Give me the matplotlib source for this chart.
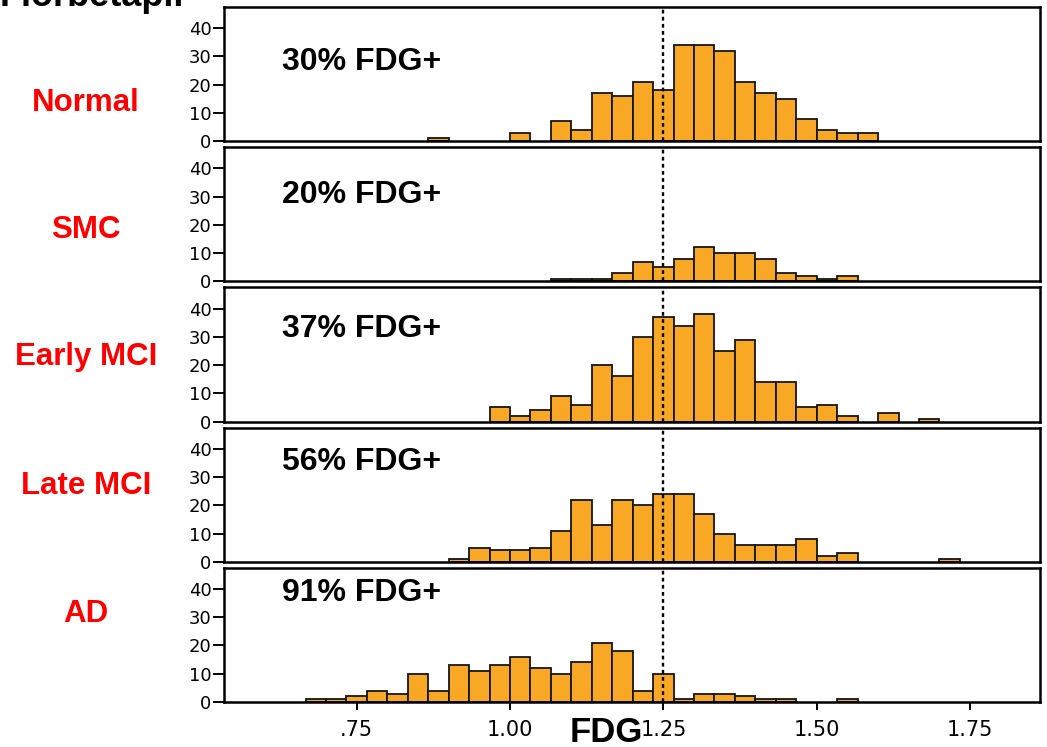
import matplotlib.pyplot as plt
import numpy as np

groups = ["Normal", "SMC", "Early MCI", "Late MCI", "AD"]
pct_labels = ["30% FDG+", "20% FDG+", "37% FDG+", "56% FDG+", "91% FDG+"]

# histogram bins are 1/30 wide, centred on 1.25; first bin centre 1.25 - 17/30
bin_width = 1 / 30
first_center = 1.25 - 17 / 30

normal = [0, 0, 0, 0, 0, 0, 1, 0, 0, 0, 3, 0, 7, 4, 17, 16, 21, 18,
          34, 34, 32, 21, 17, 15, 8, 4, 3, 3, 0, 0, 0, 0]
smc = [0, 0, 0, 0, 0, 0, 0, 0, 0, 0, 0, 0, 1, 1, 1, 3, 7, 5,
       8, 12, 10, 10, 8, 3, 2, 1, 2, 0, 0, 0, 0, 0]
early_mci = [0, 0, 0, 0, 0, 0, 0, 0, 0, 5, 2, 4, 9, 6, 20, 16, 30, 37,
             34, 38, 25, 29, 14, 14, 5, 6, 2, 0, 3, 0, 1, 0]
late_mci = [0, 0, 0, 0, 0, 0, 0, 1, 5, 4, 4, 5, 11, 22, 13, 22, 20, 24,
            24, 17, 10, 6, 6, 6, 8, 2, 3, 0, 0, 0, 0, 1]
ad = [1, 1, 2, 4, 3, 10, 4, 13, 11, 13, 16, 12, 10, 14, 21, 18, 4, 10,
      1, 3, 3, 2, 1, 1, 0, 0, 1, 0, 0, 0, 0, 0]

cutoff = 1.25
xticks = [0.75, 1.00, 1.25, 1.50, 1.75]
xtick_labels = [".75", "1.00", "1.25", "1.50", "1.75"]
yticks = [0, 10, 20, 30, 40]

W, H = 1047, 747
fig, axes = plt.subplots(5, 1, figsize=(W / 100, H / 100), dpi=100, sharex=True)
fig.subplots_adjust(left=224 / W, right=1040 / W, top=1 - 7 / H,
                    bottom=1 - 702 / H, hspace=6 / 134)

all_counts = [normal, smc, early_mci, late_mci, ad]
pct_y = [0.53, 0.585, 0.627, 0.687, 0.754]       # baseline, axes fraction
group_base = [111, 238, 365, 494, 622]           # baseline, px from top

for i, ax in enumerate(axes):
    counts = np.array(all_counts[i])
    centers = first_center + np.arange(len(counts)) * bin_width
    keep = counts > 0
    ax.bar(centers[keep], counts[keep], width=bin_width, color='#F9A825',
           edgecolor='#151515', linewidth=1.3, zorder=2)
    ax.axvline(cutoff, color='black', lw=1.7, linestyle=(0, (1.6, 1.4)), zorder=3)

    ax.set_xlim(0.5337, 1.864)
    ax.set_ylim(0, 47.5)
    ax.set_yticks(yticks)
    ax.tick_params(axis='y', length=8, width=1.4, pad=1, labelsize=13)
    for s in ax.spines.values():
        s.set_linewidth(1.8)
    ax.text(0.071, pct_y[i], pct_labels[i], transform=ax.transAxes,
            fontsize=23, fontweight='bold', family='Liberation Sans', va='baseline')
    fig.text(86 / W, 1 - group_base[i] / H, groups[i], color='#FF0000',
             fontsize=22.5, fontweight='bold', family='Liberation Sans',
             ha='center', va='baseline')
    if i < 4:
        ax.tick_params(axis='x', bottom=False, labelbottom=False)

axes[-1].set_xticks(xticks)
axes[-1].set_xticklabels(xtick_labels)
axes[-1].tick_params(axis='x', length=6, width=1.4, pad=7, labelsize=15)

fig.text(606 / W, 1 - 742 / H, "FDG", fontsize=25, fontweight='bold',
         family='Liberation Sans', ha='center', va='baseline')
# title is cut off at the top edge in the original figure
fig.text(0, 1 - 6 / H, "Florbetapir", fontsize=26, fontweight='bold',
         family='Liberation Sans', ha='left', va='baseline')

plt.savefig('out.png', dpi=100)
